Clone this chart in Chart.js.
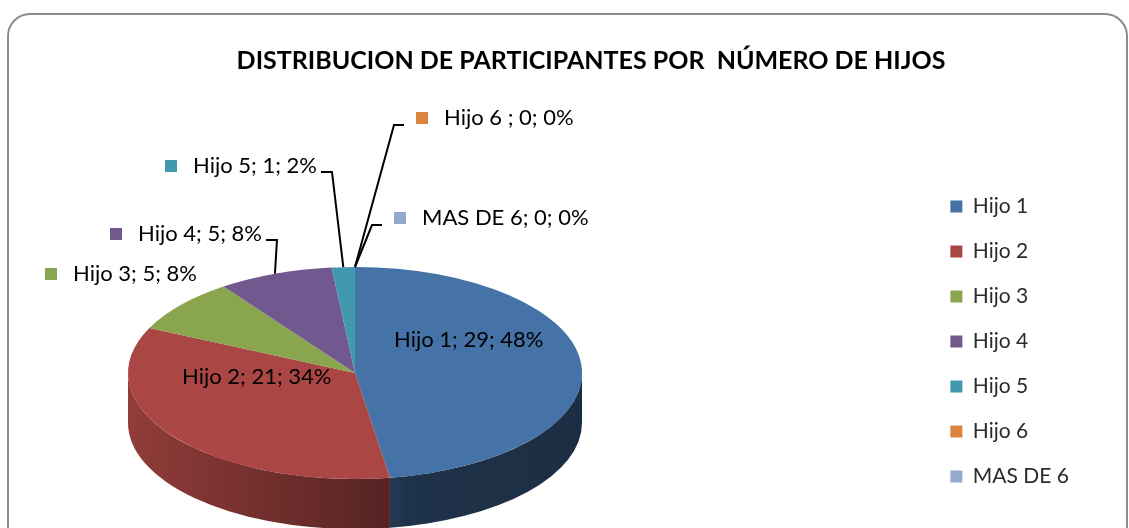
<!DOCTYPE html>
<html>
<head>
<meta charset="utf-8">
<script src="https://cdn.jsdelivr.net/npm/chart.js@4.4.1/dist/chart.umd.min.js"></script>
<style>
  html, body { margin: 0; padding: 0; background: #fff; }
  #wrap { width: 1129px; height: 528px; }
</style>
</head>
<body>
<div id="wrap"><canvas id="chart"></canvas></div>
<script>
const categories = ['Hijo 1', 'Hijo 2', 'Hijo 3', 'Hijo 4', 'Hijo 5', 'Hijo 6', 'MAS DE 6']
const labelNames = ['Hijo 1', 'Hijo 2', 'Hijo 3', 'Hijo 4', 'Hijo 5', 'Hijo 6 ', 'MAS DE 6']
const counts = [29, 21, 5, 5, 1, 0, 0]
const percents = [48, 34, 8, 8, 2, 0, 0]
const colors = ['#4572A7', '#AA4643', '#89A54E', '#71588F', '#4198AF', '#DB843D', '#93A9CF']

// where the flattened pie sits on the page
const pieBox = {cx: 355, cy: 373, rx: 227, ry: 106, depth: 50}
// data label anchors (left of colour square, text middle) and leader side
const labelPos = [
  {x: 366, y: 340},
  {x: 154, y: 377},
  {x: 45, y: 274},
  {x: 110, y: 234, leader: 'right'},
  {x: 165, y: 166, leader: 'right'},
  {x: 416, y: 118, leader: 'left'},
  {x: 394, y: 218, leader: 'left'}
]
const labelFont = '22px Lato'

const shade = (hex, f) => {
  const n = parseInt(hex.slice(1), 16)
  const r = Math.round(((n >> 16) & 255) * f)
  const g = Math.round(((n >> 8) & 255) * f)
  const b = Math.round((n & 255) * f)
  return `rgb(${r},${g},${b})`
}

const frame = {
  id: 'frame',
  beforeDraw(chart) {
    const ctx = chart.ctx
    ctx.save()
    ctx.strokeStyle = '#8c8c8c'
    ctx.lineWidth = 2
    ctx.beginPath()
    ctx.roundRect(8, 14, 1119, 540, 22)
    ctx.stroke()
    ctx.restore()
  }
}

const pie3d = {
  id: 'pie3d',
  beforeDatasetsDraw(chart) {
    const ctx = chart.ctx
    const meta = chart.getDatasetMeta(0)
    const {cx, cy, rx, ry, depth} = pieBox

    // front wall of the pie, only the part facing the viewer
    meta.data.forEach((arc, i) => {
      const a = Math.max(arc.startAngle, 0)
      const b = Math.min(arc.endAngle, Math.PI)
      if (b <= a) return
      const grad = ctx.createLinearGradient(cx - rx, 0, cx + rx, 0)
      grad.addColorStop(0, shade(colors[i], 0.85))
      grad.addColorStop(0.58, shade(colors[i], 0.5))
      grad.addColorStop(0.62, shade(colors[i], 0.44))
      grad.addColorStop(1, shade(colors[i], 0.4))
      ctx.save()
      ctx.fillStyle = grad
      ctx.beginPath()
      ctx.ellipse(cx, cy, rx, ry, 0, a, b)
      ctx.ellipse(cx, cy + depth, rx, ry, 0, b, a, true)
      ctx.closePath()
      ctx.fill()
      ctx.restore()
    })

    const {x, y, outerRadius} = meta.data[0]
    ctx.save()
    ctx.translate(cx, cy)
    ctx.scale(rx / outerRadius, ry / outerRadius)
    ctx.translate(-x, -y)
  },
  afterDatasetsDraw(chart) {
    const ctx = chart.ctx
    ctx.restore()
    const meta = chart.getDatasetMeta(0)
    const {cx, cy, rx, ry} = pieBox

    ctx.save()
    ctx.font = labelFont
    ctx.textBaseline = 'middle'
    meta.data.forEach((arc, i) => {
      const pos = labelPos[i]
      const text = `${labelNames[i]}; ${counts[i]}; ${percents[i]}%`
      ctx.fillStyle = colors[i]
      ctx.fillRect(pos.x, pos.y - 6, 12, 12)
      ctx.fillStyle = '#000'
      ctx.fillText(text, pos.x + 28, pos.y)

      if (!pos.leader) return
      const mid = (arc.startAngle + arc.endAngle) / 2
      const ex = cx + rx * Math.cos(mid)
      const ey = cy + ry * Math.sin(mid)
      ctx.strokeStyle = '#000'
      ctx.lineWidth = 2
      ctx.beginPath()
      if (pos.leader === 'right') {
        const end = pos.x + 28 + ctx.measureText(text).width
        ctx.moveTo(end + 4, pos.y + 6)
        ctx.lineTo(end + 15, pos.y + 6)
      } else {
        ctx.moveTo(pos.x - 12, pos.y + 7)
        ctx.lineTo(pos.x - 22, pos.y + 7)
      }
      ctx.lineTo(ex, ey)
      ctx.stroke()
    })
    ctx.restore()
  }
}

new Chart(document.getElementById('chart'), {
  type: 'pie',
  data: {
    labels: categories,
    datasets: [{
      data: counts,
      backgroundColor: colors,
      borderWidth: 0
    }]
  },
  options: {
    responsive: true,
    maintainAspectRatio: false,
    animation: false,
    layout: {
      padding: {left: 103, right: 50, top: 0, bottom: 17}
    },
    plugins: {
      title: {
        display: true,
        text: 'DISTRIBUCION DE PARTICIPANTES POR  NÚMERO DE HIJOS',
        color: '#000',
        font: {family: 'Lato', size: 25, weight: 'bold'},
        padding: {top: 46, bottom: 0}
      },
      legend: {
        position: 'right',
        align: 'end',
        labels: {
          color: '#2b2b2b',
          font: {family: 'Lato', size: 21},
          boxWidth: 12,
          boxHeight: 12,
          padding: 24
        }
      },
      tooltip: {enabled: false}
    }
  },
  plugins: [frame, pie3d]
})
</script>
</body>
</html>
